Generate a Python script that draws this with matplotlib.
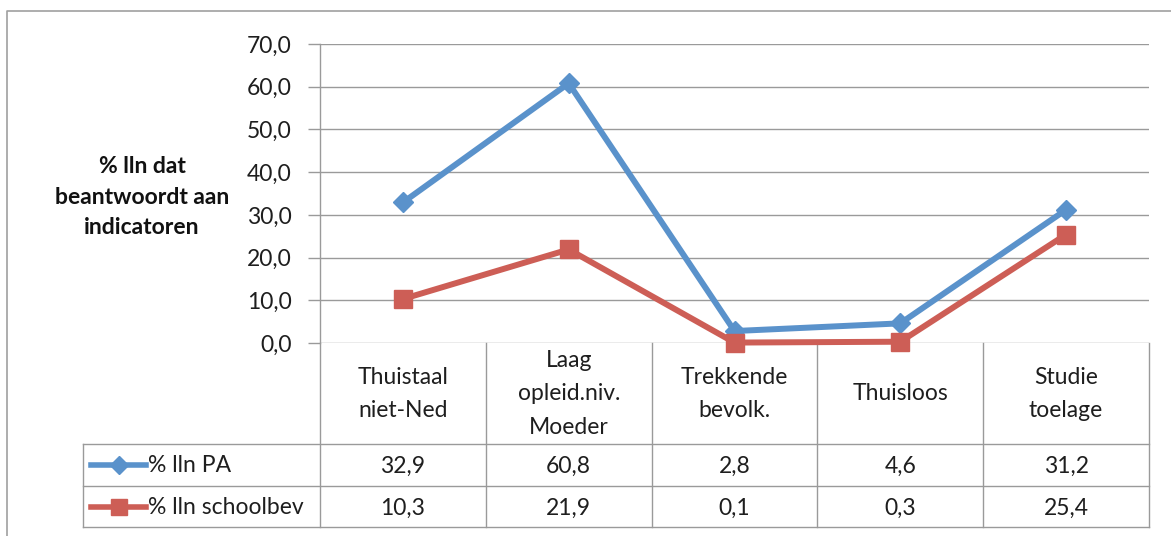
import matplotlib.pyplot as plt
import numpy as np
from matplotlib.transforms import blended_transform_factory
from matplotlib.ticker import FuncFormatter

# data
categories = ["Thuistaal\nniet-Ned", "Laag\nopleid.niv.\nMoeder", "Trekkende\nbevolk.",
              "Thuisloos", "Studie\ntoelage"]
series_names = ["% lln PA", "% lln schoolbev"]
pa_values = [32.9, 60.8, 2.8, 4.6, 31.2]
school_values = [10.3, 21.9, 0.1, 0.3, 25.4]

blue = "#5A92CB"
red = "#CD5E56"
grey = "#9A9A9A"
txt = "#1E1E1E"
font = "Lato"
fs = 16.5

W, H = 1171, 536
fig = plt.figure(figsize=(W / 100, H / 100), dpi=100)

# pixel overlay for frame and table
ov = fig.add_axes([0, 0, 1, 1])
ov.set_xlim(0, W)
ov.set_ylim(H, 0)
ov.axis("off")

left_px, right_px, top_px, zero_px = 320, 1149, 44, 343
ax = fig.add_axes([left_px / W, 1 - zero_px / H, (right_px - left_px) / W, (zero_px - top_px) / H])
ax.set_xlim(0, len(categories))
ax.set_ylim(0, 70)
ax.set_yticks(np.arange(0, 71, 10))
ax.yaxis.set_major_formatter(FuncFormatter(lambda v, p: f"{v:.1f}".replace(".", ",")))
ax.set_xticks([])
for s in ["top", "right", "bottom"]:
    ax.spines[s].set_visible(False)
ax.spines["left"].set_color(grey)
ax.spines["left"].set_linewidth(1)
ax.tick_params(axis="y", length=9, width=1, color=grey, pad=11.5, labelsize=fs, labelcolor=txt)
for lab in ax.get_yticklabels():
    lab.set_fontfamily(font)
ax.grid(axis="y", color=grey, linewidth=1)
ax.set_axisbelow(True)
ax.patch.set_alpha(0)

x = np.arange(len(categories)) + 0.5
ax.plot(x, pa_values, color=blue, lw=4.3, marker="D", markersize=10, zorder=2, clip_on=False)
ax.plot(x, school_values, color=red, lw=4.3, marker="s", markersize=13, zorder=3, clip_on=False)

# y label
fig.text(142 / W, 1 - 197 / H, "% lln dat\nbeantwoordt aan\nindicatoren", ha="center", va="center",
         fontsize=fs, fontweight="bold", family=font, linespacing=1.55, color="#111111")

# outer frame
ov.plot([7, 7, W + 5], [H + 5, 11, 11], color="#A0A0A0", lw=1.2, clip_on=False)

# data table
tr = blended_transform_factory(ax.transData, ov.transData)
for i in range(len(categories) + 1):
    ax.plot([i, i], [zero_px, 527], color=grey, lw=1, transform=tr, clip_on=False)
ov.plot([83, 83], [444, 527], color=grey, lw=1)
for yy in [444, 486, 527]:
    ov.plot([83, right_px], [yy, yy], color=grey, lw=1)

for i, cat in enumerate(categories):
    ax.text(i + 0.5, 394, cat, transform=tr, ha="center", va="center", fontsize=fs,
            family=font, linespacing=1.72, color=txt)
    ax.text(i + 0.5, 466, f"{pa_values[i]:.1f}".replace(".", ","), transform=tr, ha="center",
            va="center", fontsize=fs, family=font, color=txt)
    ax.text(i + 0.5, 508, f"{school_values[i]:.1f}".replace(".", ","), transform=tr, ha="center",
            va="center", fontsize=fs, family=font, color=txt)

# legend keys inside the table
for yy, col, mk, ms, name in [(465, blue, "D", 9, series_names[0]), (507, red, "s", 11, series_names[1])]:
    ov.plot([91, 146], [yy, yy], color=col, lw=4)
    ov.plot([118.5], [yy], color=col, marker=mk, markersize=ms)
    ov.text(148, yy + 1, name, ha="left", va="center", fontsize=fs, family=font, color=txt)

fig.savefig("out.png", dpi=100)
